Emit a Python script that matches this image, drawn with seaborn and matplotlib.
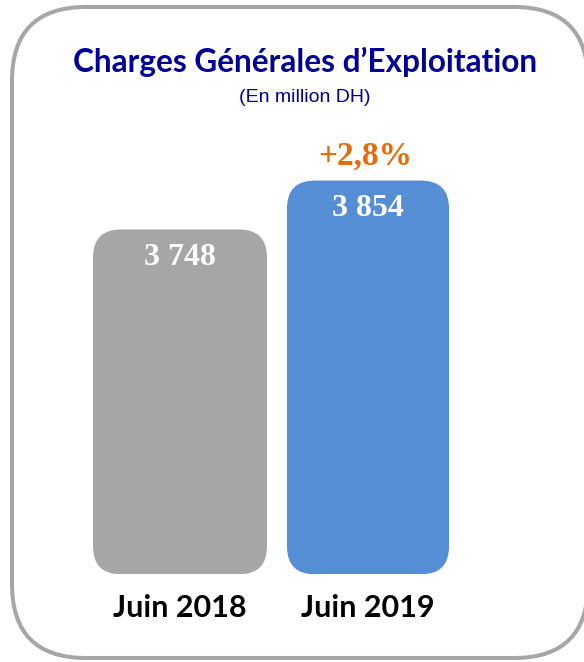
import pandas as pd
import matplotlib
matplotlib.use("Agg")
import matplotlib.pyplot as plt
import seaborn as sns
from matplotlib.patches import FancyBboxPatch

# data
periods = ["Juin 2018", "Juin 2019"]
charges = [3748, 3854]
value_labels = ["3 748", "3 854"]
growth_label = "+2,8%"

# styling
bar_colors = ["#A6A6A6", "#558ED5"]
bar_widths = [0.925, 0.862]
W, H = 584, 662

sns.set_theme(style="white")

fig = plt.figure(figsize=(W / 100, H / 100), dpi=100)

# background frame with rounded corners (pixel units)
bg = fig.add_axes([0, 0, 1, 1])
bg.set_xlim(0, W)
bg.set_ylim(H, 0)
bg.axis("off")
bg.set_zorder(0)
frame = FancyBboxPatch((12, 7), 576, 651, boxstyle="round,pad=0,rounding_size=74",
                       fc="white", ec="#A6A6A6", lw=2.9, clip_on=False)
bg.add_patch(frame)

# bar axes
ax_bottom, ax_top = 574.3, 140
ax = fig.add_axes([86 / W, (H - ax_bottom) / H, 376 / W, (ax_bottom - ax_top) / H])
ax.set_zorder(1)
ax.patch.set_alpha(0)

df = pd.DataFrame({"periode": periods, "charges": charges})
sns.barplot(data=df, x="periode", y="charges", hue="periode", palette=bar_colors,
            saturation=1, width=0.9, legend=False, ax=ax)
ax.set_xlim(-0.5, 1.5)
ax.set_ylim(3000, 3942)

# replace plain bars with rounded ones
y0, y1 = ax.get_ylim()
x_per_px = 2 / 376
y_per_px = (y1 - y0) / (ax_bottom - ax_top)
aspect = y_per_px / x_per_px
radius = 28 * x_per_px
for patch, w in zip(list(ax.patches), bar_widths):
    cx = patch.get_x() + patch.get_width() / 2
    top = patch.get_height()
    color = patch.get_facecolor()
    patch.remove()
    ax.add_patch(FancyBboxPatch((cx - w / 2, y0), w, top - y0,
                                boxstyle=f"round,pad=0,rounding_size={radius}",
                                mutation_aspect=aspect, fc=color, ec="none"))

serif = ["Liberation Serif", "DejaVu Serif"]
for i, (val, lab) in enumerate(zip(charges, value_labels)):
    ax.annotate(lab, xy=(i, val), xytext=(0, -20), textcoords="offset points",
                ha="center", va="center", color="white", fontsize=23,
                fontweight="bold", family=serif)

ax.annotate(growth_label, xy=(1, charges[1]), xytext=(-2, 17.5), textcoords="offset points",
            ha="center", va="center", color="#E46C0A", fontsize=24,
            fontweight="bold", family=serif, annotation_clip=False)

ax.set_xlabel("")
ax.set_ylabel("")
ax.set_yticks([])
ax.tick_params(axis="x", length=0, pad=14)
for t in ax.get_xticklabels():
    t.set_fontfamily(["Lato", "DejaVu Sans"])
    t.set_fontweight("bold")
    t.set_fontsize(22)
    t.set_color("black")
sns.despine(ax=ax, left=True, bottom=True)

fig.text(305 / W, 1 - 62 / H, "Charges Générales d\u2019Exploitation", ha="center", va="center",
         color="#000099", fontsize=22.7, fontweight="bold", family=["Lato", "DejaVu Sans"])
fig.text(305 / W, 1 - 97 / H, "(En million DH)", ha="center", va="center",
         color="#000099", fontsize=14, family=["Liberation Sans", "DejaVu Sans"])

fig.savefig("out.png", dpi=100)
